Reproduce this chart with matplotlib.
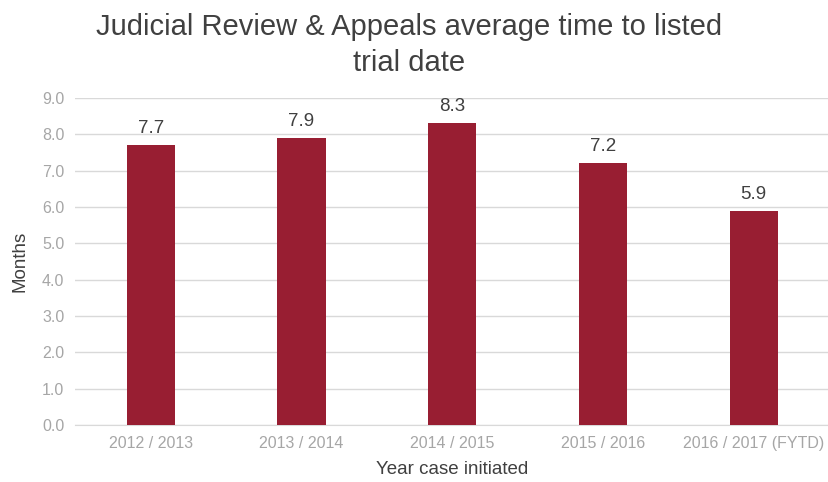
import matplotlib
matplotlib.use("Agg")
import matplotlib.pyplot as plt

plt.rcParams['font.family'] = ['Liberation Sans', 'DejaVu Sans']

years = ["2012 / 2013", "2013 / 2014", "2014 / 2015", "2015 / 2016", "2016 / 2017 (FYTD)"]
months = [7.7, 7.9, 8.3, 7.2, 5.9]
yticks = [0.0, 1.0, 2.0, 3.0, 4.0, 5.0, 6.0, 7.0, 8.0, 9.0]

bar_color = "#981e32"
grid_color = "#d9d9d9"
tick_color = "#a6a6a6"
text_color = "#404040"

fig = plt.figure(figsize=(8.29, 4.82), dpi=100)
ax = fig.add_axes([0.091, 0.118, 0.909, 0.679])

x = range(len(years))
bars = ax.bar(x, months, width=0.32, color=bar_color, zorder=3)
for b, v in zip(bars, months):
    ax.text(b.get_x() + b.get_width() / 2, v + 0.22, f"{v:.1f}",
            ha="center", va="bottom", fontsize=13.5, color=text_color)

ax.set_xlim(-0.5, len(years) - 0.5)
ax.set_ylim(0, 9)
ax.set_yticks(yticks)
ax.set_yticklabels([f"{t:.1f}" for t in yticks])
ax.set_xticks(list(x))
ax.set_xticklabels(years)
ax.tick_params(axis="both", length=0, labelsize=11.5, labelcolor=tick_color, pad=8)
ax.yaxis.grid(True, color=grid_color, linewidth=1, zorder=0)
for s in ["top", "right", "left"]:
    ax.spines[s].set_visible(False)
ax.spines["bottom"].set_color(grid_color)

ax.set_ylabel("Months", fontsize=13.5, color=text_color, labelpad=10)
ax.set_xlabel("Year case initiated", fontsize=13.5, color=text_color, labelpad=7)

fig.text(0.494, 0.972, "Judicial Review & Appeals average time to listed\ntrial date",
         ha="center", va="top", fontsize=21, color=text_color, linespacing=1.35)

fig.savefig("out.png", dpi=100)
